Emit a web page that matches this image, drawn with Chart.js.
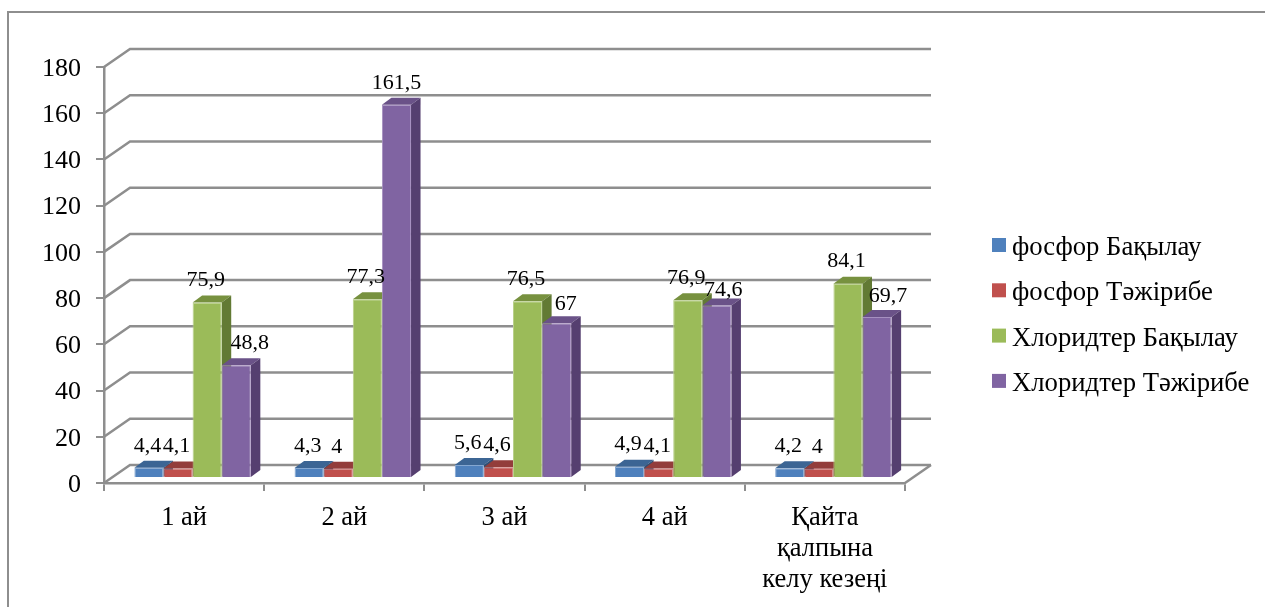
<!DOCTYPE html>
<html>
<head>
<meta charset="utf-8">
<title>Фосфор және хлоридтер</title>
<script src="https://cdn.jsdelivr.net/npm/chart.js@4"></script>
<style>
    html, body { margin: 0; padding: 0; background: #fff; }
    canvas { display: block; }
</style>
</head>
<body>
<canvas id="barChart" width="1265" height="607"></canvas>
<script>
// Chart data
const categories = ['1 ай', '2 ай', '3 ай', '4 ай', ['Қайта', 'қалпына', 'келу кезеңі']];
const seriesNames = ['фосфор Бақылау', 'фосфор Тәжірибе', 'Хлоридтер Бақылау', 'Хлоридтер Тәжірибе'];
const phosphorControl = [4.4, 4.3, 5.6, 4.9, 4.2];
const phosphorTest = [4.1, 4, 4.6, 4.1, 4];
const chlorideControl = [75.9, 77.3, 76.5, 76.9, 84.1];
const chlorideTest = [48.8, 161.5, 67, 74.6, 69.7];
const seriesValues = [phosphorControl, phosphorTest, chlorideControl, chlorideTest];

// Colours: front, edge, top and side faces of each series
const frontColors = ['#4f81bd', '#c0504d', '#9bbb59', '#8064a2'];
const edgeColors = ['#84a7d1', '#d38482', '#b9d08a', '#a690c0'];
const topColors = ['#3c6594', '#933d3b', '#77913f', '#6a5288'];
const sideColors = ['#2f4f75', '#743030', '#627a34', '#553f70'];

const GRAY = '#8e8e8e';
const SERIF = '"Liberation Serif", serif';

// Depth of the fake 3D box and of the bars inside it
const WALL_DX = 26, WALL_DY = 18;
const BAR_SHIFT_X = 8.5, BAR_SHIFT_Y = 5;
const BAR_DX = 9.5, BAR_DY = 7;

// Some value labels sit off-centre in the reference, [series, category, dx, dy]
const labelNudges = [
    [3, 0, 13.5, 0], [3, 1, 0, 0], [3, 2, 9, 3], [3, 3, 6.5, 7], [3, 4, 11, 1]
];

function formatValue(v) {
    return String(v).replace('.', ',');
}

function polygon(ctx, points, color) {
    ctx.fillStyle = color;
    ctx.beginPath();
    points.forEach((p, i) => i ? ctx.lineTo(p[0], p[1]) : ctx.moveTo(p[0], p[1]));
    ctx.closePath();
    ctx.fill();
}

const box3d = {
    id: 'box3d',
    beforeDraw(chart) {
        const ctx = chart.ctx;
        // Outer frame, cut off by the bottom of the picture
        ctx.save();
        ctx.strokeStyle = GRAY;
        ctx.lineWidth = 2;
        ctx.beginPath();
        ctx.moveTo(8, 607);
        ctx.lineTo(8, 12);
        ctx.lineTo(1265, 12);
        ctx.stroke();
        ctx.restore();
    },
    beforeDatasetsDraw(chart) {
        const ctx = chart.ctx;
        const { left, right, bottom } = chart.chartArea;
        const yScale = chart.scales.y;
        ctx.save();
        ctx.strokeStyle = GRAY;
        ctx.lineWidth = 2.5;
        // Side wall and back wall line for every y tick
        yScale.ticks.forEach((tick) => {
            const y = yScale.getPixelForValue(tick.value);
            ctx.beginPath();
            ctx.moveTo(left, y);
            ctx.lineTo(left + WALL_DX, y - WALL_DY);
            ctx.lineTo(right + WALL_DX, y - WALL_DY);
            ctx.stroke();
        });
        // Floor edge on the right
        ctx.beginPath();
        ctx.moveTo(right, bottom);
        ctx.lineTo(right + WALL_DX, bottom - WALL_DY);
        ctx.stroke();

        // Top and side faces, first series first; the fronts go over them afterwards
        ctx.translate(BAR_SHIFT_X, -BAR_SHIFT_Y);
        seriesValues.forEach((values, s) => {
            chart.getDatasetMeta(s).data.forEach((bar) => {
                const x0 = bar.x - bar.width / 2;
                const x1 = bar.x + bar.width / 2;
                polygon(ctx, [[x0, bar.y], [x0 + BAR_DX, bar.y - BAR_DY], [x1 + BAR_DX, bar.y - BAR_DY], [x1, bar.y]], topColors[s]);
                polygon(ctx, [[x1, bar.y], [x1 + BAR_DX, bar.y - BAR_DY], [x1 + BAR_DX, bar.base - BAR_DY], [x1, bar.base]], sideColors[s]);
            });
        });
        ctx.restore();
    },
    beforeDatasetDraw(chart) {
        chart.ctx.save();
        chart.ctx.translate(BAR_SHIFT_X, -BAR_SHIFT_Y);
    },
    afterDatasetDraw(chart) {
        chart.ctx.restore();
    },
    afterDatasetsDraw(chart) {
        const ctx = chart.ctx;
        ctx.save();
        ctx.font = '22px ' + SERIF;
        ctx.fillStyle = '#000';
        ctx.textAlign = 'center';
        ctx.textBaseline = 'middle';
        seriesValues.forEach((values, s) => {
            const bars = chart.getDatasetMeta(s).data;
            values.forEach((v, c) => {
                const nudge = labelNudges.find((n) => n[0] === s && n[1] === c);
                const dx = nudge ? nudge[2] : -1.5;
                const dy = nudge ? nudge[3] : 0;
                ctx.fillText(formatValue(v), bars[c].x + BAR_SHIFT_X + dx, bars[c].y - BAR_SHIFT_Y - 22 + dy);
            });
        });

        // Legend on the right
        ctx.font = '26.7px ' + SERIF;
        ctx.textAlign = 'left';
        ctx.textBaseline = 'alphabetic';
        seriesNames.forEach((name, i) => {
            const y = 245 + i * 45.3;
            ctx.fillStyle = frontColors[i];
            ctx.fillRect(992, y - 7, 14, 14);
            ctx.fillStyle = '#000';
            ctx.fillText(name, 1012, y + 10);
        });
        ctx.restore();
    }
};

new Chart(document.getElementById('barChart'), {
    type: 'bar',
    plugins: [box3d],
    data: {
        labels: categories,
        datasets: seriesNames.map((name, i) => ({
            label: name,
            data: seriesValues[i],
            backgroundColor: frontColors[i],
            borderColor: edgeColors[i],
            borderWidth: 1,
            categoryPercentage: 0.727,
            barPercentage: 1,
            clip: false
        }))
    },
    options: {
        responsive: false,
        animation: false,
        devicePixelRatio: 1,
        layout: {
            padding: { left: 8, top: 67, right: 360, bottom: 0 }
        },
        plugins: {
            tooltip: { enabled: false },
            legend: { display: false }
        },
        scales: {
            x: {
                afterFit(scale) { scale.height = 124; },
                grid: { color: GRAY, lineWidth: 2, tickLength: 8, drawOnChartArea: false },
                border: { color: GRAY, width: 2.5 },
                ticks: {
                    color: '#000',
                    padding: 11,
                    maxRotation: 0,
                    font: { family: SERIF, size: 26.5, lineHeight: 1.18 }
                }
            },
            y: {
                min: 0,
                max: 180,
                afterFit(scale) { scale.width = 96; },
                grid: { color: GRAY, lineWidth: 2, tickLength: 8, drawOnChartArea: false },
                border: { color: GRAY, width: 2.5 },
                ticks: {
                    stepSize: 20,
                    color: '#000',
                    padding: 15,
                    // blank first line with a 4px line height moves the number down 2px
                    callback: (v) => ['', String(v)],
                    font: { family: SERIF, size: 26, lineHeight: '4px' }
                }
            }
        }
    }
});
</script>
</body>
</html>
